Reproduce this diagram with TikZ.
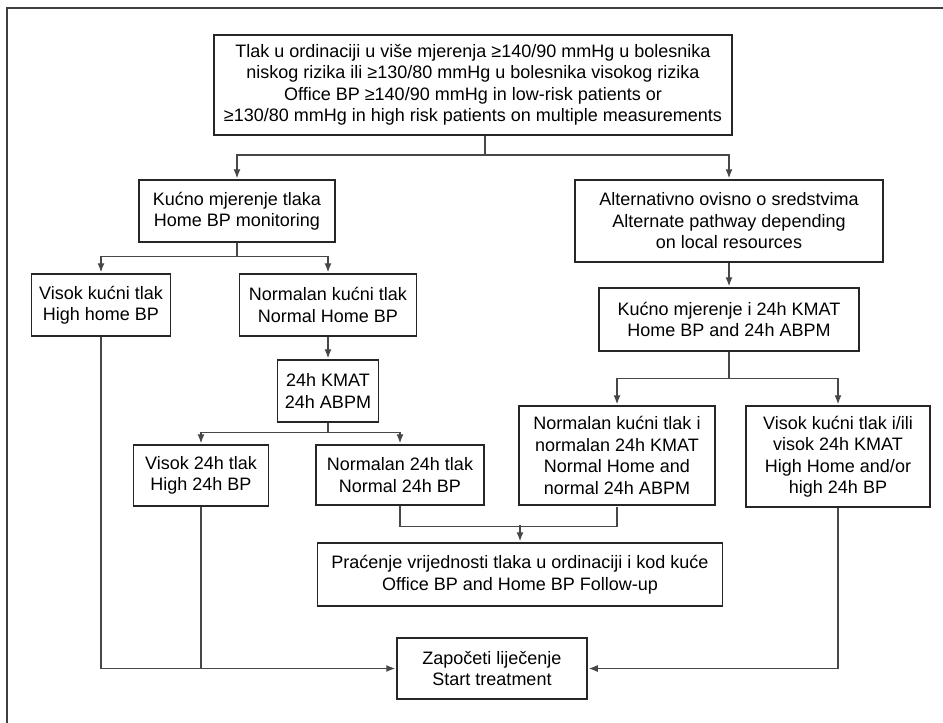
\documentclass[tikz,border=0pt]{standalone}
\usepackage{fontspec}
\setmainfont{Liberation Sans}
\usepackage{tikz}
\usetikzlibrary{calc,arrows.meta}

\begin{document}
\begin{tikzpicture}[x=1pt,y=-1pt,line width=1.2pt,>={Latex[length=9pt,width=7pt]},
	box/.style={draw=black!85,line width=1.5pt,inner sep=0pt,align=center,font=\fontsize{18}{21.5}\selectfont},
	link/.style={draw=black!72,line width=1.2pt,shorten >=1pt}]
	\useasboundingbox (0,0) rectangle (943,723);
	%FRAME
	\draw[black!75,line width=1.6pt] (7,723)--(7,8)--(943,8);
	
	%BOXES
	\node[box,minimum width=518,minimum height=100] (top) at (473,85) {Tlak u ordinaciji u više mjerenja ≥140/90 mmHg u bolesnika\\niskog rizika ili ≥130/80 mmHg u bolesnika visokog rizika\\Office BP ≥140/90 mmHg in low-risk patients or\\≥130/80 mmHg in high risk patients on multiple measurements};
	\node[box,minimum width=196,minimum height=62] (home) at (237,211) {Kućno mjerenje tlaka\\Home BP monitoring};
	\node[box,minimum width=308,minimum height=82] (alt) at (729,221) {Alternativno ovisno o sredstvima\\Alternate pathway depending\\on local resources};
	\node[box,minimum width=139,minimum height=62] (highhome) at (101,305) {Visok kućni tlak\\High home BP};
	\node[box,minimum width=177,minimum height=62] (normhome) at (328,305) {Normalan kućni tlak\\Normal Home BP};
	\node[box,minimum width=101,minimum height=62] (abpm) at (328,391) {24h KMAT\\24h ABPM};
	\node[box,minimum width=260,minimum height=63] (both) at (729,319.5) {Kućno mjerenje i 24h KMAT\\Home BP and 24h ABPM};
	\node[box,minimum width=135,minimum height=61] (high24) at (201,475.5) {Visok 24h tlak\\High 24h BP};
	\node[box,minimum width=168,minimum height=60] (norm24) at (400,475) {Normalan 24h tlak\\Normal 24h BP};
	\node[box,minimum width=196,minimum height=99] (normboth) at (617,455.5) {Normalan kućni tlak i\\normalan 24h KMAT\\Normal Home and\\normal 24h ABPM};
	\node[box,minimum width=184,minimum height=101] (highboth) at (838,456.5) {Visok kućni tlak i/ili\\visok 24h KMAT\\High Home and/or\\high 24h BP};
	\node[box,minimum width=405,minimum height=63] (follow) at (520,574.5) {Praćenje vrijednosti tlaka u ordinaciji i kod kuće\\Office BP and Home BP Follow-up};
	\node[box,minimum width=190,minimum height=61] (start) at (492,668.5) {Započeti liječenje\\Start treatment};
	
	%ARROWS
	\coordinate (split) at (485,155);
	\draw[link] (split |- top.south)--(split);
	\draw[link,->] (split) -| (home.north);
	\draw[link,->] (split) -| (alt.north);
	\draw[link,->] (home.south)--++(0,14) -| (highhome.north);
	\draw[link,->] (home.south)--++(0,14) -| (normhome.north);
	\draw[link,->] (normhome.south)--(abpm.north);
	\draw[link,->] (abpm.south)--++(0,10) -| (high24.north);
	\draw[link,->] (abpm.south)--++(0,10) -| (norm24.north);
	\draw[link,->] (alt.south)--(both.north);
	\draw[link,->] (both.south)--++(0,27) -| (normboth.north);
	\draw[link,->] (both.south)--++(0,27) -| (highboth.north);
	\draw[link] (norm24.south)--++(0,21) -| (normboth.south);
	\draw[link,->] ($(follow.north)+(0,-17)$)--(follow.north);
	\draw[link,->] (highhome.south) |- (start.west);
	\draw[link] (high24.south)--(high24.south |- start.west);
	\draw[link,->] (highboth.south) |- (start.east);
\end{tikzpicture}
\end{document}
